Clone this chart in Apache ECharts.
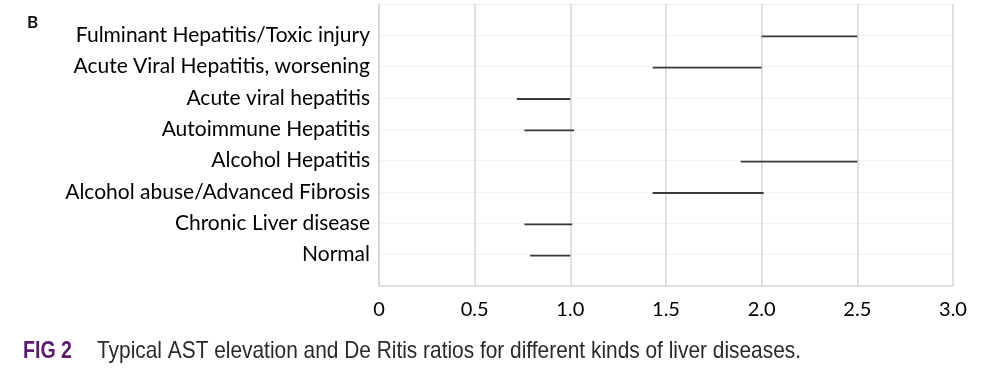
<!DOCTYPE html>
<html>
<head>
<meta charset="utf-8">
<script src="https://cdn.jsdelivr.net/npm/echarts@6/dist/echarts.min.js"></script>
<style>html,body{margin:0;padding:0;background:#fff;}#c{width:994px;height:371px;}</style>
</head>
<body>
<div id="c"></div>
<script>
// Categories from bottom (row 1) to top (row 8)
var categories = [
  "Normal",
  "Chronic Liver disease",
  "Alcohol abuse/Advanced Fibrosis",
  "Alcohol Hepatitis",
  "Autoimmune Hepatitis",
  "Acute viral hepatitis",
  "Acute Viral Hepatitis, worsening",
  "Fulminant Hepatitis/Toxic injury"
];
var rangeStart = [0.79, 0.76, 1.43, 1.89, 0.76, 0.72, 1.43, 2.0];
var rangeEnd   = [1.0, 1.01, 2.01, 2.5, 1.02, 1.0, 2.0, 2.5];
var xTicks = [0, 0.5, 1.0, 1.5, 2.0, 2.5, 3.0];
var panelLabel = "B";
var figLabel = "FIG 2";
var caption = "Typical AST elevation and De Ritis ratios for different kinds of liver diseases.";

var data = categories.map(function (c, i) { return [rangeStart[i], rangeEnd[i], i + 1]; });

function textWidth(txt, font) {
  var cv = document.createElement('canvas').getContext('2d');
  cv.font = font;
  return cv.measureText(txt).width;
}
var capFont = 'Liberation Sans';
var capSize = 24;
var figScale = 49 / textWidth(figLabel, 'bold ' + capSize + 'px "Liberation Sans"');
var capScale = 704 / textWidth(caption, capSize + 'px "Liberation Sans"');

var chart = echarts.init(document.getElementById('c'), null, {renderer: 'canvas'});
chart.setOption({
  animation: false,
  backgroundColor: '#fff',
  grid: {left: 379, right: 41, top: 4, bottom: 85, containLabel: false},
  xAxis: {
    type: 'value', min: 0, max: 3, interval: 0.5,
    axisLine: {show: true, lineStyle: {color: '#d6d6d6', width: 1.5}},
    axisTick: {show: false},
    splitLine: {show: true, lineStyle: {color: '#d6d6d6', width: 1.5}},
    axisLabel: {
      margin: 14, color: '#000', fontSize: 20, fontFamily: 'Lato',
      formatter: function (v) { return v === 0 ? '0' : v.toFixed(1); }
    }
  },
  yAxis: {
    type: 'value', min: 0, max: 9, interval: 1,
    axisLine: {show: true, lineStyle: {color: '#d6d6d6', width: 1.5}},
    axisTick: {show: false},
    splitLine: {show: true, lineStyle: {color: '#f2f2f2', width: 1}},
    axisLabel: {
      margin: 9, color: '#000', fontSize: 21, fontFamily: 'Lato',
      formatter: function (v) { return (v >= 1 && v <= categories.length) ? categories[v - 1] : ''; }
    }
  },
  series: [{
    type: 'custom',
    data: data,
    encode: {x: [0, 1], y: 2},
    renderItem: function (params, api) {
      var p1 = api.coord([api.value(0), api.value(2)]);
      var p2 = api.coord([api.value(1), api.value(2)]);
      return {
        type: 'line',
        shape: {x1: p1[0], y1: p1[1] + 1, x2: p2[0], y2: p2[1] + 1},
        style: {stroke: '#3a3a3a', lineWidth: 1.8}
      };
    }
  }],
  graphic: [
    {type: 'text', x: 27, y: 23, style: {text: panelLabel, font: 'bold 17px Lato', fill: '#111', verticalAlign: 'middle'}},
    {type: 'text', x: 23, y: 351, scaleX: figScale, style: {text: figLabel, font: 'bold ' + capSize + 'px "Liberation Sans"', fill: '#5a1a6e', verticalAlign: 'middle'}},
    {type: 'text', x: 97, y: 351, scaleX: capScale, style: {text: caption, font: capSize + 'px "Liberation Sans"', fill: '#2a2a2a', verticalAlign: 'middle'}}
  ]
});
</script>
</body>
</html>
